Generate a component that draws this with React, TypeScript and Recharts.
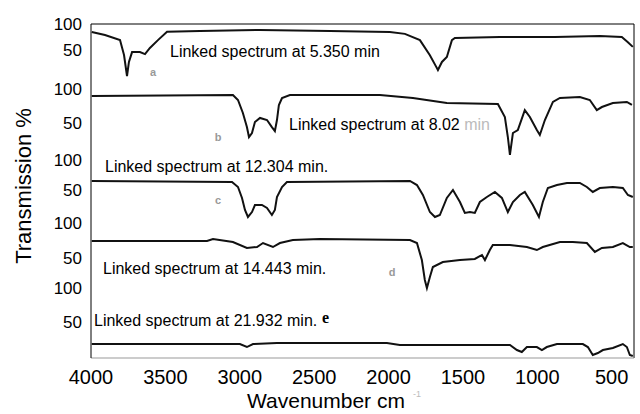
import { LineChart, Line, XAxis, YAxis, ReferenceLine } from "recharts"

// wavenumber (cm-1) / transmission (%)
const spectrumA = [
  { w: 3995, t: 84.6 }, { w: 3906, t: 78.8 }, { w: 3805, t: 69.2 }, { w: 3778, t: 40.4 },
  { w: 3758, t: 0 }, { w: 3745, t: 27 }, { w: 3724, t: 46 }, { w: 3671, t: 46 },
  { w: 3637, t: 42 }, { w: 3604, t: 54 }, { w: 3550, t: 69 }, { w: 3489, t: 85 },
  { w: 3268, t: 86.5 }, { w: 2864, t: 88.5 }, { w: 2394, t: 86.5 }, { w: 1991, t: 84.6 },
  { w: 1890, t: 81 }, { w: 1789, t: 69 }, { w: 1722, t: 40 }, { w: 1682, t: 19 },
  { w: 1668, t: 11.5 }, { w: 1641, t: 27 }, { w: 1608, t: 36.5 }, { w: 1574, t: 69 },
  { w: 1554, t: 73 }, { w: 1252, t: 75 }, { w: 882, t: 75 }, { w: 580, t: 77 },
  { w: 432, t: 75 }, { w: 391, t: 65 }, { w: 358, t: 56 },
]

const spectrumB = [
  { w: 3995, t: 89.7 }, { w: 3046, t: 91.2 }, { w: 3012, t: 83.8 }, { w: 2979, t: 64.7 },
  { w: 2952, t: 44 }, { w: 2938, t: 29.4 }, { w: 2918, t: 35.3 }, { w: 2898, t: 51.5 },
  { w: 2864, t: 57.4 }, { w: 2817, t: 54.4 }, { w: 2784, t: 44 }, { w: 2764, t: 38 },
  { w: 2750, t: 54.4 }, { w: 2737, t: 76.5 }, { w: 2716, t: 86.8 }, { w: 2663, t: 91.2 },
  { w: 2058, t: 91.2 }, { w: 1836, t: 86.8 }, { w: 1608, t: 79.4 }, { w: 1265, t: 77.9 },
  { w: 1218, t: 58.8 }, { w: 1198, t: 29.4 }, { w: 1184, t: 3 }, { w: 1164, t: 35.3 },
  { w: 1131, t: 39.7 }, { w: 1084, t: 69 }, { w: 1050, t: 58.8 }, { w: 1003, t: 39.7 },
  { w: 983, t: 32.4 }, { w: 949, t: 54.4 }, { w: 895, t: 81 }, { w: 848, t: 86.8 },
  { w: 714, t: 88.2 }, { w: 647, t: 83.8 }, { w: 600, t: 69 }, { w: 566, t: 73.5 },
  { w: 492, t: 79.4 }, { w: 398, t: 81 }, { w: 364, t: 76.5 },
]

const spectrumC = [
  { w: 3995, t: 65 }, { w: 3052, t: 63.3 }, { w: 3012, t: 55 }, { w: 2985, t: 36.7 },
  { w: 2965, t: 16.7 }, { w: 2945, t: 5 }, { w: 2918, t: 13.3 }, { w: 2898, t: 25 },
  { w: 2851, t: 25 }, { w: 2817, t: 20 }, { w: 2784, t: 8.3 }, { w: 2764, t: 16.7 },
  { w: 2750, t: 38.3 }, { w: 2716, t: 55 }, { w: 2683, t: 63.3 }, { w: 1856, t: 65 },
  { w: 1809, t: 58.3 }, { w: 1769, t: 41.7 }, { w: 1722, t: 13.3 }, { w: 1688, t: 5 },
  { w: 1655, t: 8.3 }, { w: 1608, t: 36.7 }, { w: 1567, t: 50 }, { w: 1520, t: 30 },
  { w: 1487, t: 11.7 }, { w: 1453, t: 13.3 }, { w: 1420, t: 11.7 }, { w: 1386, t: 30 },
  { w: 1339, t: 38.3 }, { w: 1285, t: 46.7 }, { w: 1238, t: 36.7 }, { w: 1198, t: 13.3 },
  { w: 1164, t: 30 }, { w: 1117, t: 41.7 }, { w: 1084, t: 46.7 }, { w: 1030, t: 25 },
  { w: 989, t: 5 }, { w: 963, t: 30 }, { w: 929, t: 53.3 }, { w: 868, t: 58.3 },
  { w: 801, t: 61.7 }, { w: 714, t: 61.7 }, { w: 667, t: 55 }, { w: 627, t: 46.7 },
  { w: 580, t: 53.3 }, { w: 492, t: 55 }, { w: 425, t: 53.3 }, { w: 391, t: 41.7 },
  { w: 358, t: 38.3 },
]

const spectrumD = [
  { w: 3995, t: 74.3 }, { w: 3220, t: 74.3 }, { w: 3180, t: 77.1 }, { w: 3046, t: 72.9 },
  { w: 2952, t: 64.3 }, { w: 2884, t: 65.7 }, { w: 2844, t: 71.4 }, { w: 2777, t: 65.7 },
  { w: 2730, t: 71.4 }, { w: 2643, t: 75.7 }, { w: 2461, t: 77.1 }, { w: 1856, t: 75.7 },
  { w: 1809, t: 71.4 }, { w: 1776, t: 47.1 }, { w: 1756, t: 18.6 }, { w: 1742, t: 7.1 },
  { w: 1722, t: 22.9 }, { w: 1702, t: 37.1 }, { w: 1635, t: 44.3 }, { w: 1520, t: 47.1 },
  { w: 1420, t: 48.6 }, { w: 1372, t: 54.3 }, { w: 1352, t: 47.1 }, { w: 1319, t: 61.4 },
  { w: 1299, t: 68.6 }, { w: 1184, t: 68.6 }, { w: 1070, t: 65.7 }, { w: 1003, t: 61.4 },
  { w: 963, t: 65.7 }, { w: 848, t: 72.9 }, { w: 761, t: 72.9 }, { w: 667, t: 71.4 },
  { w: 613, t: 58.6 }, { w: 566, t: 64.3 }, { w: 492, t: 65.7 }, { w: 425, t: 71.4 },
  { w: 378, t: 65.7 }, { w: 358, t: 65.7 },
]

const spectrumE = [
  { w: 3995, t: 17.6 }, { w: 2999, t: 17.6 }, { w: 2952, t: 13.2 }, { w: 2911, t: 17.6 },
  { w: 2750, t: 19.1 }, { w: 2011, t: 19.1 }, { w: 1924, t: 16.2 }, { w: 1184, t: 16.2 },
  { w: 1137, t: 8.8 }, { w: 1104, t: 5.9 }, { w: 1070, t: 13.2 }, { w: 1003, t: 13.2 },
  { w: 969, t: 8.8 }, { w: 936, t: 13.2 }, { w: 868, t: 17.6 }, { w: 694, t: 17.6 },
  { w: 660, t: 13.2 }, { w: 627, t: 1.5 }, { w: 593, t: 4.4 }, { w: 559, t: 8.8 },
  { w: 492, t: 11.8 }, { w: 425, t: 17.6 }, { w: 398, t: 13.2 }, { w: 378, t: 1.5 },
  { w: 358, t: 0 },
]

const spectra = [spectrumA, spectrumB, spectrumC, spectrumD, spectrumE]
const wavenumberTicks = [4000, 3500, 3000, 2500, 2000, 1500, 1000, 500]

// stacking: where each panel's 100 % sits, and how tall 1 % is in that panel
const panelTop = [334, 269, 198, 135, 70]
const panelScale = [0.52, 0.68, 0.6, 0.7, 0.68]

const stacked = spectra.map((s, i) =>
  s.map((p) => ({ w: p.w, y: panelTop[i] - (100 - p.t) * panelScale[i] }))
)
const yTicks = panelTop.flatMap((top, i) => [top, top - 50 * panelScale[i]])

const font = "'Liberation Sans', Arial, sans-serif"

export default function App() {
  return (
    <div style={{ position: "absolute", left: 0, top: 0, width: 640, height: 414, background: "#fff" }}>
      <LineChart width={640} height={414} margin={{ top: 24, right: 6, left: 0, bottom: 0 }}>
        <XAxis
          type="number"
          dataKey="w"
          domain={[350, 4000]}
          reversed
          allowDataOverflow
          ticks={wavenumberTicks}
          interval={0}
          height={56}
          tickLine={false}
          tickMargin={6}
          axisLine={{ stroke: "#999" }}
          tick={{ fill: "#000", fontSize: 20, fontFamily: font }}
        />
        <YAxis
          type="number"
          domain={[0, 334]}
          allowDataOverflow
          ticks={yTicks}
          interval={0}
          width={91}
          tickLine={false}
          tickMargin={3}
          axisLine={{ stroke: "#000" }}
          tick={{ fill: "#000", fontSize: 17, fontFamily: font }}
          tickFormatter={(v: number) => (panelTop.includes(v) ? "100" : "50")}
        />
        <ReferenceLine y={334} stroke="#000" />
        <ReferenceLine x={350} stroke="#000" />
        {stacked.map((d, i) => (
          <Line
            key={i}
            data={d}
            dataKey="y"
            type="linear"
            stroke="#111"
            strokeWidth={2}
            dot={false}
            isAnimationActive={false}
          />
        ))}
      </LineChart>
      <svg
        width={640}
        height={414}
        style={{ position: "absolute", left: 0, top: 0, pointerEvents: "none" }}
        fontFamily={font}
      >
        <text x={23} y={186} fontSize={22} textAnchor="middle" dominantBaseline="central" transform="rotate(-90 23 186)">
          Transmission %
        </text>
        <text x={247} y={408} fontSize={21}>
          Wavenumber cm
          <tspan dx={8} dy={-11} fontSize={9} fill="#bbb">-1</tspan>
        </text>
        <g fontSize={16} fill="#000">
          <text x={170} y={57}>Linked spectrum at 5.350 min</text>
          <text x={289} y={130}>
            Linked spectrum at 8.02 <tspan fill="#bbb">min</tspan>
          </text>
          <text x={105} y={172}>Linked spectrum at 12.304 min.</text>
          <text x={103} y={274}>Linked spectrum at 14.443 min.</text>
          <text x={94} y={326}>Linked spectrum at 21.932 min.</text>
        </g>
        <text x={322} y={323} fontSize={16} fontWeight="bold" fontFamily="'Liberation Serif', serif">e</text>
        <g fontSize={11} fill="#999" fontWeight="bold" textAnchor="middle" dominantBaseline="central">
          <text x={153} y={72}>a</text>
          <text x={218} y={137}>b</text>
          <text x={218} y={200}>c</text>
          <text x={392} y={272}>d</text>
        </g>
      </svg>
    </div>
  )
}
